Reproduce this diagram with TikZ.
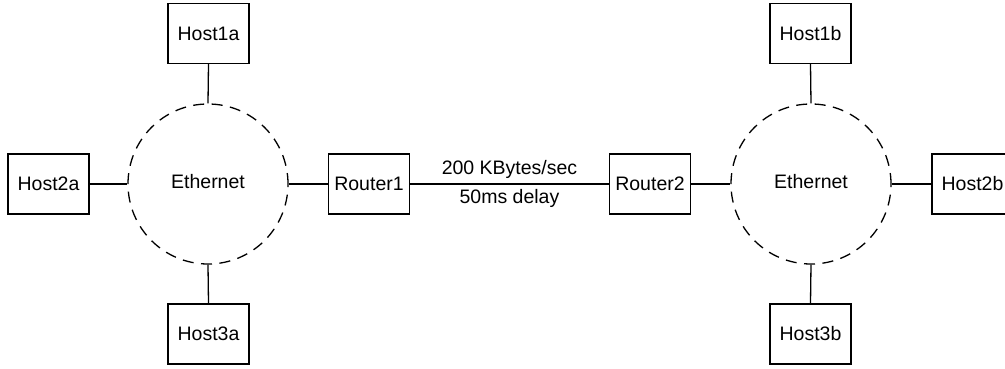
\documentclass[tikz,border=0pt]{standalone}
\usepackage{fontspec}
\setmainfont{Liberation Sans}
\begin{document}
\begin{tikzpicture}[x=1pt,y=-1pt,
  box/.style={draw,line width=1.3pt,minimum width=81pt,minimum height=60pt,inner sep=0pt,font=\fontsize{19.5}{23}\selectfont},
  ether/.style={draw,circle,line width=1.3pt,dash pattern=on 11pt off 7.5pt,minimum size=160pt,inner sep=0pt,font=\fontsize{19.5}{23}\selectfont},
  wire/.style={line width=1.3pt},
  lbl/.style={font=\fontsize{19.5}{23}\selectfont}]
\useasboundingbox (0,0) rectangle (1005,369);
\node[ether] (e1) at (208,184) {};
\node[lbl] at (208,182) {Ethernet};
\node[ether] (e2) at (811,184) {};
\node[lbl] at (811,182) {Ethernet};
\node[box] (h1a) at (208.5,33.5) {Host1a};
\node[box] (h2a) at (48.5,184) {Host2a};
\node[box] (h3a) at (208.5,334) {Host3a};
\node[box] (r1) at (369,184) {Router1};
\node[box] (r2) at (650,184) {Router2};
\node[box] (h1b) at (810.5,33.5) {Host1b};
\node[box] (h2b) at (972.5,184) {Host2b};
\node[box] (h3b) at (810.5,334) {Host3b};
\draw[wire] (h1a.south) -- (e1.north);
\draw[wire] (h2a.east) -- (e1.west);
\draw[wire] (h3a.north) -- (e1.south);
\draw[wire] (e1.east) -- (r1.west);
\draw[wire] (r1.east) -- node[lbl,above,yshift=1pt] {200 KBytes/sec} node[lbl,below,yshift=-1pt] {50ms delay} (r2.west);
\draw[wire] (r2.east) -- (e2.west);
\draw[wire] (h1b.south) -- (e2.north);
\draw[wire] (h3b.north) -- (e2.south);
\draw[wire] (e2.east) -- (h2b.west);
\end{tikzpicture}
\end{document}
